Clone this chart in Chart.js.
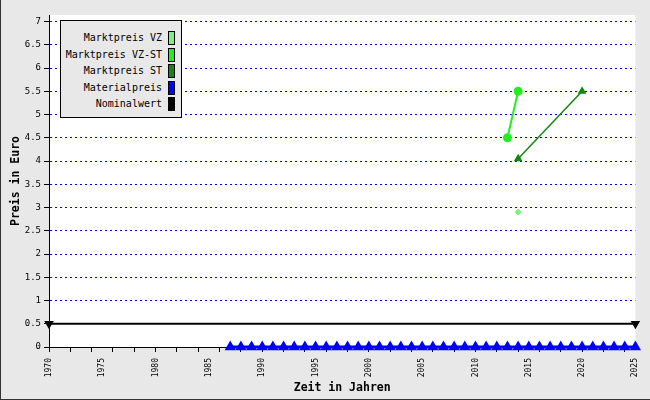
<!DOCTYPE html>
<html>
<head>
<meta charset="utf-8">
<script src="https://cdn.jsdelivr.net/npm/chart.js@4/dist/chart.umd.min.js"></script>
<style>
  html, body { margin: 0; padding: 0; }
  body { width: 650px; height: 400px; overflow: hidden; }
  #wrap { position: relative; width: 650px; height: 400px; background: #e8e8e8; box-sizing: border-box; border-left: 1px solid #333; border-bottom: 1px solid #333; }
  #chart { position: absolute; left: 0; top: 0; }
  #legend { position: absolute; left: 59px; top: 20px; width: 122px; height: 98px; box-sizing: border-box;
            background: #e8e8e8; border: 1px solid #000; font: 10px "DejaVu Sans Mono", monospace; color: #000; }
  .row { position: absolute; right: 6px; height: 14px; line-height: 14px; white-space: nowrap; }
  .row span.sw { display: inline-block; width: 7px; height: 14px; box-sizing: border-box; border: 1px solid #000; vertical-align: top; margin-left: 6px; }
</style>
</head>
<body>
<div id="wrap">
  <canvas id="chart" width="650" height="400"></canvas>
  <div id="legend"></div>
</div>
<script>
// Marktpreis VZ
const vzYears = [2014];
const vzValues = [2.9];
// Marktpreis VZ-ST
const vzstYears = [2013, 2014];
const vzstValues = [4.5, 5.5];
// Marktpreis ST
const stYears = [2014, 2020];
const stValues = [4.05, 5.5];
// Materialpreis
const matYears = [1987, 1988, 1989, 1990, 1991, 1992, 1993, 1994, 1995, 1996, 1997, 1998, 1999,
                  2000, 2001, 2002, 2003, 2004, 2005, 2006, 2007, 2008, 2009, 2010, 2011, 2012,
                  2013, 2014, 2015, 2016, 2017, 2018, 2019, 2020, 2021, 2022, 2023, 2024, 2025];
const matValues = [0, 0, 0, 0, 0, 0, 0, 0, 0, 0, 0, 0, 0,
                   0, 0, 0, 0, 0, 0, 0, 0, 0, 0, 0, 0, 0,
                   0, 0, 0, 0, 0, 0, 0, 0, 0, 0, 0, 0, 0];
// Nominalwert
const nomYears = [1970, 2025];
const nomValues = [0.5, 0.5];

const legendNames = ['Marktpreis VZ', 'Marktpreis VZ-ST', 'Marktpreis ST', 'Materialpreis', 'Nominalwert'];
const colors = ['#7df27d', '#22ee22', '#118811', '#0000ff', '#000000'];

function pts(xs, ys) {
    return xs.map((x, i) => ({ x: x, y: ys[i] }));
}

// legend (drawn as html over the canvas)
const legend = document.getElementById('legend');
legendNames.forEach((name, i) => {
    const row = document.createElement('div');
    row.className = 'row';
    row.style.top = (10 + i * 16.6) + 'px';
    row.innerHTML = name + '<span class="sw" style="background:' + colors[i] + '"></span>';
    legend.appendChild(row);
});

const plotBg = {
    id: 'plotBg',
    beforeDraw(chart) {
        const a = chart.chartArea;
        chart.ctx.save();
        chart.ctx.fillStyle = '#ffffff';
        chart.ctx.fillRect(a.left, a.top, a.right - a.left, a.bottom - a.top);
        chart.ctx.restore();
    }
};

const mono = '"DejaVu Sans Mono", monospace';

new Chart(document.getElementById('chart'), {
    type: 'line',
    data: {
        datasets: [
            { label: legendNames[0], data: pts(vzYears, vzValues), borderColor: colors[0], backgroundColor: colors[0],
              pointStyle: 'rectRot', pointRadius: 3, borderWidth: 1, showLine: false, clip: false },
            { label: legendNames[1], data: pts(vzstYears, vzstValues), borderColor: colors[1], backgroundColor: colors[1],
              pointStyle: 'circle', pointRadius: 3.5, borderWidth: 2, clip: false },
            { label: legendNames[2], data: pts(stYears, stValues), borderColor: colors[2], backgroundColor: colors[2],
              pointStyle: 'triangle', pointRadius: 3.5, borderWidth: 1.5, clip: false },
            { label: legendNames[3], data: pts(matYears, matValues), borderColor: colors[3], backgroundColor: colors[3],
              pointStyle: 'triangle', pointRadius: 3.5, borderWidth: 3, clip: false },
            { label: legendNames[4], data: pts(nomYears, nomValues), borderColor: colors[4], backgroundColor: colors[4],
              pointStyle: 'triangle', rotation: 180, pointRadius: 3.5, borderWidth: 2, clip: false }
        ]
    },
    options: {
        responsive: false,
        animation: false,
        layout: { padding: { left: 0, top: 15, right: 14, bottom: 0 } },
        elements: { line: { tension: 0 } },
        plugins: {
            legend: { display: false },
            tooltip: { enabled: false }
        },
        scales: {
            x: {
                type: 'linear',
                min: 1970,
                max: 2025,
                afterFit(scale) { scale.height = 53; },
                border: { display: true, color: '#000', width: 1 },
                grid: {
                    drawOnChartArea: false,
                    tickLength: 5,
                    tickColor: ctx => (ctx.tick && ctx.tick.value % 2 === 0) ? '#000' : 'rgba(0,0,0,0)'
                },
                ticks: {
                    stepSize: 1,
                    autoSkip: false,
                    minRotation: 90,
                    maxRotation: 90,
                    padding: 6,
                    color: '#000',
                    font: { family: mono, size: 8 },
                    callback: v => (v % 5 === 0 ? String(v) : '')
                },
                title: {
                    display: true,
                    text: 'Zeit in Jahren',
                    color: '#000',
                    font: { family: mono, size: 11.5, weight: 'bold' },
                    padding: { top: 0, bottom: 5 }
                }
            },
            y: {
                min: 0,
                max: 7.14,
                afterFit(scale) { scale.width = 48; },
                border: { display: true, color: '#000', width: 1, dash: [2, 3] },
                grid: {
                    color: ctx => (ctx.tick && ctx.tick.value === 0) ? 'rgba(0,0,0,0)' : '#0000ff',
                    lineWidth: 1,
                    tickLength: 5,
                    tickColor: '#000'
                },
                ticks: {
                    stepSize: 0.5,
                    includeBounds: false,
                    padding: 3,
                    color: '#000',
                    font: { family: mono, size: 9 },
                    callback: v => String(Math.round(v * 10) / 10)
                },
                title: {
                    display: true,
                    text: 'Preis in Euro',
                    color: '#000',
                    font: { family: mono, size: 11.5, weight: 'bold' },
                    padding: { top: 8, bottom: 0 }
                }
            }
        }
    },
    plugins: [plotBg]
});
</script>
</body>
</html>
